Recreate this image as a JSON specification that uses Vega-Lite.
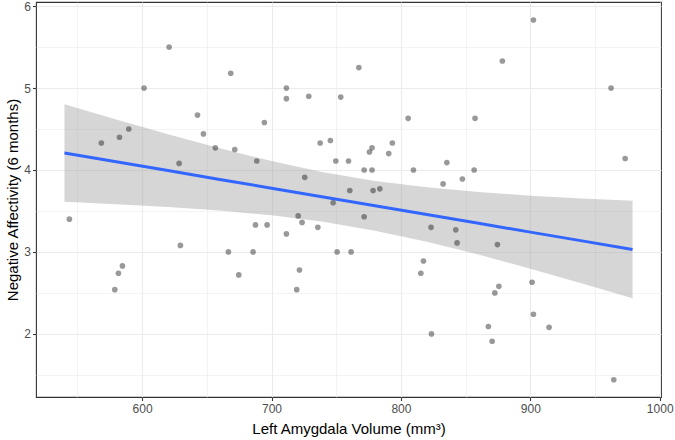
{
  "$schema": "https://vega.github.io/schema/vega-lite/v6.json",
  "width": 625,
  "height": 395,
  "autosize": {"type": "none"},
  "padding": {"left": 36, "top": 2, "right": 14, "bottom": 43},
  "background": "white",
  "datasets": {
    "pts": [
      {"vol": 543.8, "na": 3.40}, {"vol": 568.5, "na": 4.33}, {"vol": 578.9, "na": 2.54},
      {"vol": 581.7, "na": 2.74}, {"vol": 582.5, "na": 4.40}, {"vol": 584.8, "na": 2.83},
      {"vol": 589.7, "na": 4.50}, {"vol": 601.5, "na": 5.00}, {"vol": 620.9, "na": 5.50},
      {"vol": 628.6, "na": 4.08}, {"vol": 629.6, "na": 3.08}, {"vol": 642.8, "na": 4.67},
      {"vol": 647.4, "na": 4.44}, {"vol": 656.6, "na": 4.27}, {"vol": 666.7, "na": 3.00},
      {"vol": 668.5, "na": 5.18}, {"vol": 671.6, "na": 4.25}, {"vol": 674.7, "na": 2.72},
      {"vol": 685.8, "na": 3.00}, {"vol": 687.6, "na": 3.33}, {"vol": 688.6, "na": 4.11},
      {"vol": 694.5, "na": 4.58}, {"vol": 696.6, "na": 3.33}, {"vol": 711.5, "na": 5.00},
      {"vol": 711.5, "na": 4.87}, {"vol": 711.5, "na": 3.22}, {"vol": 719.5, "na": 2.54},
      {"vol": 720.6, "na": 3.44}, {"vol": 721.6, "na": 2.78}, {"vol": 723.6, "na": 3.36},
      {"vol": 725.7, "na": 3.91}, {"vol": 728.8, "na": 4.90}, {"vol": 735.8, "na": 3.30},
      {"vol": 737.6, "na": 4.33}, {"vol": 745.5, "na": 4.36}, {"vol": 747.6, "na": 3.60},
      {"vol": 749.7, "na": 4.11}, {"vol": 750.7, "na": 3.00}, {"vol": 753.5, "na": 4.89},
      {"vol": 759.5, "na": 4.11}, {"vol": 760.5, "na": 3.75}, {"vol": 761.5, "na": 3.00},
      {"vol": 767.5, "na": 5.25}, {"vol": 771.6, "na": 4.00}, {"vol": 771.6, "na": 3.43},
      {"vol": 775.7, "na": 4.22}, {"vol": 777.7, "na": 4.27}, {"vol": 777.7, "na": 4.00},
      {"vol": 778.5, "na": 3.75}, {"vol": 783.7, "na": 3.77}, {"vol": 790.6, "na": 4.20},
      {"vol": 793.4, "na": 4.33}, {"vol": 805.6, "na": 4.63}, {"vol": 809.7, "na": 4.00},
      {"vol": 815.4, "na": 2.74}, {"vol": 817.4, "na": 2.89}, {"vol": 823.3, "na": 3.30},
      {"vol": 823.6, "na": 2.00}, {"vol": 832.6, "na": 3.83}, {"vol": 835.5, "na": 4.09},
      {"vol": 842.4, "na": 3.27}, {"vol": 843.4, "na": 3.11}, {"vol": 847.5, "na": 3.89},
      {"vol": 856.6, "na": 4.00}, {"vol": 857.3, "na": 4.63}, {"vol": 867.6, "na": 2.09},
      {"vol": 870.5, "na": 1.91}, {"vol": 872.6, "na": 2.50}, {"vol": 874.6, "na": 3.09},
      {"vol": 875.7, "na": 2.58}, {"vol": 878.4, "na": 5.33}, {"vol": 901.4, "na": 2.63},
      {"vol": 902.4, "na": 5.83}, {"vol": 902.4, "na": 2.24}, {"vol": 914.5, "na": 2.08},
      {"vol": 962.4, "na": 5.00}, {"vol": 964.5, "na": 1.44}, {"vol": 973.3, "na": 4.14}
    ],
    "band": [
      {"vol": 540, "fit": 4.207, "lo": 3.612, "hi": 4.802},
      {"vol": 580, "fit": 4.100, "lo": 3.583, "hi": 4.617},
      {"vol": 620, "fit": 3.993, "lo": 3.549, "hi": 4.436},
      {"vol": 660, "fit": 3.885, "lo": 3.505, "hi": 4.265},
      {"vol": 700, "fit": 3.778, "lo": 3.447, "hi": 4.109},
      {"vol": 740, "fit": 3.671, "lo": 3.367, "hi": 3.974},
      {"vol": 780, "fit": 3.564, "lo": 3.260, "hi": 3.867},
      {"vol": 820, "fit": 3.456, "lo": 3.125, "hi": 3.788},
      {"vol": 860, "fit": 3.349, "lo": 2.968, "hi": 3.731},
      {"vol": 900, "fit": 3.242, "lo": 2.796, "hi": 3.687},
      {"vol": 940, "fit": 3.135, "lo": 2.616, "hi": 3.653},
      {"vol": 979, "fit": 3.030, "lo": 2.435, "hi": 3.625}
    ]
  },
  "encoding": {
    "x": {
      "field": "vol",
      "type": "quantitative",
      "title": "Left Amygdala Volume (mm³)",
      "scale": {"domain": [518, 1001], "nice": false, "zero": false},
      "axis": {
        "values": [550, 600, 650, 700, 750, 800, 850, 900, 950, 1000],
        "labelExpr": "datum.value % 100 === 0 ? format(datum.value, 'd') : ''",
        "tickOpacity": {"condition": {"test": "datum.value % 100 !== 0", "value": 0}, "value": 1},
        "gridWidth": {"condition": {"test": "datum.value % 100 !== 0", "value": 0.6}, "value": 1.1},
        "labelPadding": 3,
        "titlePadding": 7
      }
    },
    "y": {
      "type": "quantitative",
      "scale": {"domain": [1.23, 6.05], "nice": false, "zero": false},
      "axis": {
        "values": [1.5, 2, 2.5, 3, 3.5, 4, 4.5, 5, 5.5, 6],
        "labelExpr": "datum.value % 1 === 0 ? format(datum.value, 'd') : ''",
        "tickOpacity": {"condition": {"test": "datum.value % 1 !== 0", "value": 0}, "value": 1},
        "gridWidth": {"condition": {"test": "datum.value % 1 !== 0", "value": 0.6}, "value": 1.1},
        "titlePadding": 3
      }
    }
  },
  "layer": [
    {
      "data": {"name": "band"},
      "mark": {"type": "area", "color": "#999999", "opacity": 0.4},
      "encoding": {
        "y": {"field": "lo", "type": "quantitative", "title": "Negative Affectivity (6 months)"},
        "y2": {"field": "hi"}
      }
    },
    {
      "data": {"name": "band"},
      "mark": {"type": "line", "color": "#3366FF", "strokeWidth": 3},
      "encoding": {
        "y": {"field": "fit", "type": "quantitative"}
      }
    },
    {
      "data": {"name": "pts"},
      "mark": {"type": "circle", "color": "black", "opacity": 0.4, "size": 32},
      "encoding": {
        "y": {"field": "na", "type": "quantitative"}
      }
    }
  ],
  "config": {
    "font": "Liberation Sans",
    "view": {"stroke": "#333333", "strokeWidth": 1.1},
    "axis": {
      "domain": false,
      "grid": true,
      "gridColor": "#EBEBEB",
      "tickColor": "#333333",
      "tickSize": 3.5,
      "tickWidth": 1.1,
      "labelColor": "#4D4D4D",
      "labelFontSize": 12,
      "labelPadding": 2,
      "titleFontSize": 15,
      "titleFontWeight": "normal",
      "titleColor": "black"
    }
  }
}
